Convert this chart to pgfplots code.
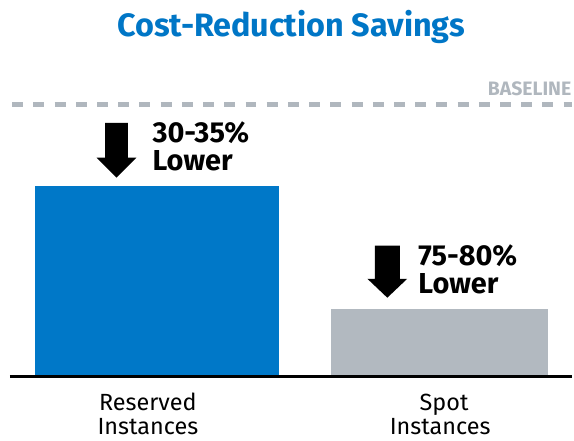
\documentclass[border=0pt]{standalone}
\usepackage{pgfplots}
\pgfplotsset{compat=1.18}
\usepackage{fontspec}
\setmainfont{Fira Sans}
\definecolor{intelblue}{RGB}{0,120,200}
\definecolor{titleblue}{RGB}{0,118,198}
\definecolor{bargray}{RGB}{178,185,192}
\definecolor{dashgray}{RGB}{176,183,190}
\begin{document}
\begin{tikzpicture}
\begin{axis}[
  width=574pt, height=442pt, scale only axis,
  hide axis, clip=false,
  xmin=0, xmax=574, ymin=-23.27, ymax=138.17,
]
\path (rel axis cs:0,0) rectangle (rel axis cs:1,1);
% baseline
\addplot[dashgray, line width=5pt, dash pattern=on 11pt off 10.3pt] coordinates {(12.3,100) (574,100)};
% bars
\addplot[ybar, bar width=245, bar shift=0pt, fill=intelblue, draw=none] coordinates {(157.5,69.8)};
\addplot[ybar, bar width=218, bar shift=0pt, fill=bargray, draw=none] coordinates {(441,24.7)};
% x axis line
\addplot[black, line width=2.5pt] coordinates {(10,0) (574,0)};
% arrows
\fill[black] (axis cs:105.5,93.13) -- (axis cs:128.5,93.13) -- (axis cs:128.5,80.35) -- (axis cs:137,80.35) -- (axis cs:117,73.05) -- (axis cs:97,80.35) -- (axis cs:105.5,80.35) -- cycle;
\fill[black] (axis cs:376.5,48.06) -- (axis cs:401.5,48.06) -- (axis cs:401.5,35.90) -- (axis cs:409,35.90) -- (axis cs:389,28.96) -- (axis cs:369,35.90) -- (axis cs:376.5,35.90) -- cycle;
% annotation texts
\node[anchor=base west, inner sep=0pt, font=\fontsize{29}{32}\selectfont\bfseries] at (axis cs:153,85.83) {30-35\%};
\node[anchor=base west, inner sep=0pt, font=\fontsize{29}{32}\selectfont\bfseries] at (axis cs:153,75.46) {Lower};
\node[anchor=base west, inner sep=0pt, font=\fontsize{29}{32}\selectfont\bfseries] at (axis cs:420,40.76) {75-80\%};
\node[anchor=base west, inner sep=0pt, font=\fontsize{29}{32}\selectfont\bfseries] at (axis cs:420,30.42) {Lower};
% title
\node[anchor=base, inner sep=0pt, text=titleblue, font=\fontsize{32.5}{36}\selectfont\bfseries] at (axis cs:292.5,124.66) {Cost-Reduction Savings};
% BASELINE label
\node[anchor=base east, inner sep=0pt, text=dashgray, font=\fontsize{19.5}{22}\selectfont\bfseries] at (axis cs:574,103.1) {BASELINE};
% category labels
\node[anchor=base, inner sep=0pt, font=\fontsize{23.5}{26}\selectfont] at (axis cs:148.5,-12.31) {Reserved};
\node[anchor=base, inner sep=0pt, font=\fontsize{23.5}{26}\selectfont] at (axis cs:148.5,-21.07) {Instances};
\node[anchor=base, inner sep=0pt, font=\fontsize{23.5}{26}\selectfont] at (axis cs:446,-12.31) {Spot};
\node[anchor=base, inner sep=0pt, font=\fontsize{23.5}{26}\selectfont] at (axis cs:442,-21.07) {Instances};
\end{axis}
\end{tikzpicture}
\end{document}
